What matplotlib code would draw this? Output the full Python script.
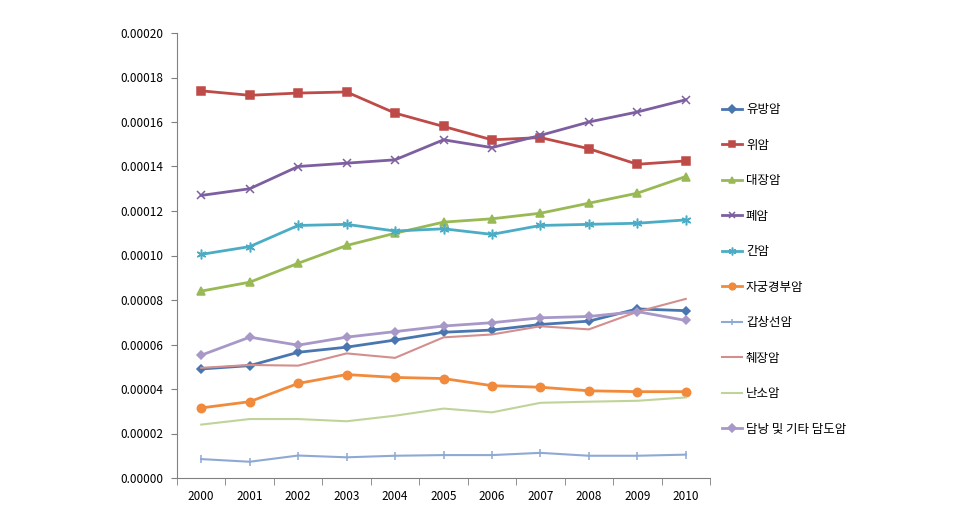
import matplotlib
matplotlib.use("Agg")
import matplotlib.pyplot as plt
from matplotlib.ticker import FormatStrFormatter

plt.rcParams['font.family'] = ['Noto Sans CJK KR', 'DejaVu Sans']

years = ['2000', '2001', '2002', '2003', '2004', '2005', '2006', '2007', '2008', '2009', '2010']

breast = [0.0000490, 0.0000505, 0.0000565, 0.0000588, 0.0000620, 0.0000655, 0.0000665, 0.0000690, 0.0000705, 0.0000760, 0.0000752]
stomach = [0.000174, 0.000172, 0.000173, 0.0001735, 0.000164, 0.000158, 0.000152, 0.000153, 0.000148, 0.000141, 0.0001425]
colon = [0.0000840, 0.0000880, 0.0000965, 0.0001045, 0.000110, 0.000115, 0.0001165, 0.000119, 0.0001235, 0.000128, 0.0001355]
lung = [0.000127, 0.000130, 0.000140, 0.0001415, 0.000143, 0.000152, 0.0001485, 0.000154, 0.000160, 0.0001645, 0.000170]
liver = [0.0001005, 0.000104, 0.0001135, 0.000114, 0.000111, 0.000112, 0.0001095, 0.0001135, 0.000114, 0.0001145, 0.000116]
cervix = [0.0000315, 0.0000343, 0.0000425, 0.0000465, 0.0000452, 0.0000447, 0.0000415, 0.0000408, 0.0000392, 0.0000388, 0.0000388]
thyroid = [0.0000085, 0.0000073, 0.0000101, 0.0000093, 0.0000100, 0.0000103, 0.0000103, 0.0000113, 0.0000100, 0.0000100, 0.0000105]
pancreas = [0.0000495, 0.0000508, 0.0000505, 0.0000560, 0.0000540, 0.0000632, 0.0000645, 0.0000682, 0.0000668, 0.0000747, 0.0000805]
ovary = [0.0000240, 0.0000265, 0.0000265, 0.0000255, 0.0000280, 0.0000312, 0.0000295, 0.0000338, 0.0000343, 0.0000347, 0.0000362]
gallbladder = [0.0000552, 0.0000633, 0.0000597, 0.0000633, 0.0000658, 0.0000683, 0.0000698, 0.0000720, 0.0000726, 0.0000748, 0.0000708]

series = [
    ('유방암', breast, '#4A76B0', 'D', 2.0, 4.5),
    ('위암', stomach, '#BE4B48', 's', 2.0, 5.5),
    ('대장암', colon, '#98B954', '^', 2.0, 6),
    ('폐암', lung, '#7D5FA0', 'x', 2.0, 6),
    ('간암', liver, '#4BACC6', (6, 2, 0), 2.0, 7),
    ('자궁경부암', cervix, '#F28A3C', 'o', 2.0, 6),
    ('갑상선암', thyroid, '#8EA9D4', '|', 1.5, 6),
    ('췌장암', pancreas, '#D38F8D', None, 1.5, 0),
    ('난소암', ovary, '#BFD498', None, 1.5, 0),
    ('담낭 및 기타 담도암', gallbladder, '#A898C8', 'D', 2.0, 4.5),
]

fig = plt.figure(figsize=(9.64, 5.15), dpi=100)
ax = fig.add_axes([177 / 964, 37 / 515, 533 / 964, 445 / 515])

x = list(range(len(years)))
for name, vals, color, marker, lw, ms in series:
    ax.plot(x, vals, color=color, marker=marker, lw=lw, ms=ms,
            mec=color, mfc=color, mew=1.1, label=name)

ax.set_xlim(-0.5, len(years) - 0.5)
ax.set_ylim(0, 0.0002)
ax.set_yticks([i * 0.00002 for i in range(11)])
ax.yaxis.set_major_formatter(FormatStrFormatter('%.5f'))
ax.set_xticks(x)
ax.set_xticklabels(years)
ax.set_xticks([i - 0.5 for i in range(len(years) + 1)], minor=True)
ax.tick_params(axis='x', which='major', length=0, pad=9, labelsize=8.5)
ax.tick_params(axis='x', which='minor', length=5, color='#808080', direction='out')
ax.tick_params(axis='y', length=4, color='#808080', labelsize=8.5, pad=6)

for s in ['top', 'right']:
    ax.spines[s].set_visible(False)
for s in ['left', 'bottom']:
    ax.spines[s].set_color('#808080')

fig.legend(loc='upper left', bbox_to_anchor=(711 / 964, 1 - 92 / 515),
           frameon=False, fontsize=9, labelspacing=1.8, handlelength=1.6,
           handletextpad=0.3, markerscale=0.8)

fig.savefig('out.png', dpi=100)
